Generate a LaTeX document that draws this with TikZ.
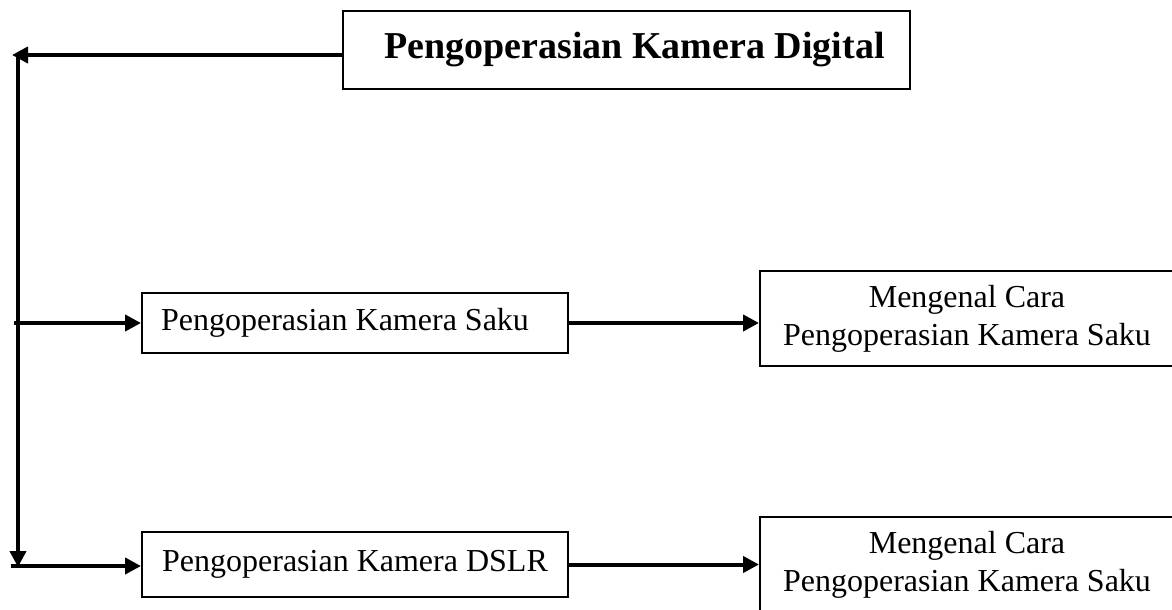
\documentclass[tikz,border=0pt]{standalone}
\usepackage{fontspec}
\setmainfont{Liberation Serif}
\usetikzlibrary{arrows.meta}
\begin{document}
\begin{tikzpicture}[x=0.5pt,y=-0.5pt,
  box/.style={draw,line width=1pt,inner sep=0pt,align=center,font=\fontsize{16}{19}\selectfont},
  conn/.style={line width=2pt,-{Triangle[length=8pt,width=8pt]}}]
\useasboundingbox (0,0) rectangle (1172,610);
\clip (0,0) rectangle (1172,610);
\node[box,minimum width=283.5pt,minimum height=39pt,font=\fontsize{19}{23}\selectfont\bfseries] (title) at (626.5,50) {\hspace*{8pt}Pengoperasian Kamera Digital};
\node[box,minimum width=213pt,minimum height=30pt] (saku) at (355,323) {Pengoperasian Kamera Saku\hspace*{10pt}};
\node[box,minimum width=213pt,minimum height=32.5pt] (dslr) at (355,564.5) {Pengoperasian Kamera DSLR};
\node[box,minimum width=207pt,minimum height=47.5pt] (r1) at (967,318.5) {Mengenal Cara\\Pengoperasian Kamera Saku};
\node[box,minimum width=207pt,minimum height=48pt] (r2) at (967,565) {Mengenal Cara\\Pengoperasian Kamera Saku};
\coordinate (tl) at (12,55);
\coordinate (vt) at (18,55);
\coordinate (vb) at (18,567);
\coordinate (ms) at (14,323);
\coordinate (bs) at (11,566);
\draw[conn] (title.west |- vt) -- (tl);
\draw[conn] (vt) -- (vb);
\draw[conn] (ms) -- (ms -| saku.west);
\draw[conn] (bs) -- (bs -| dslr.west);
\draw[conn] (saku.east) -- (saku.east -| r1.west);
\draw[conn] (dslr.east) -- (dslr.east -| r2.west);
\end{tikzpicture}
\end{document}
